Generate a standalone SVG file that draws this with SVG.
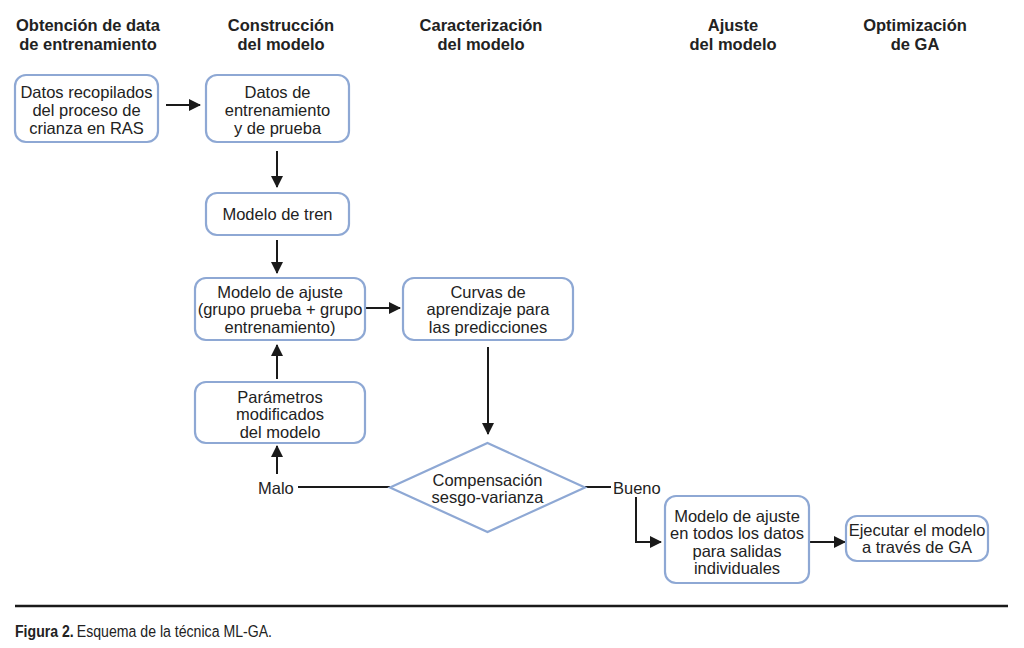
<svg xmlns="http://www.w3.org/2000/svg" width="1024" height="648" viewBox="0 0 1024 648">
<style>
.hd{font-family:"Liberation Sans",Arial,sans-serif;font-weight:bold;font-size:16.5px;fill:#222;text-anchor:middle}
.t{font-family:"Liberation Sans",Arial,sans-serif;font-size:16.5px;fill:#222;text-anchor:middle}
.lb{font-family:"Liberation Sans",Arial,sans-serif;font-size:16.5px;fill:#222}
.cap{font-family:"Liberation Sans",Arial,sans-serif;font-size:17px;fill:#222}
.box{fill:#fff;stroke:#8ea8d4;stroke-width:2.2}
.ln{fill:none;stroke:#1a1a1a;stroke-width:2}
</style>
<defs>
<marker id="a" viewBox="0 0 12 12" refX="11" refY="6" markerWidth="12" markerHeight="12" orient="auto" markerUnits="userSpaceOnUse">
<path d="M0,0 L12,6 L0,12 Z" fill="#1a1a1a"/>
</marker>
</defs>
<rect width="1024" height="648" fill="#fff"/>
<g id="headers">
<text class="hd" x="88" y="31">Obtención de data</text>
<text class="hd" x="88" y="50">de entrenamiento</text>
<text class="hd" x="281" y="31">Construcción</text>
<text class="hd" x="281" y="50">del modelo</text>
<text class="hd" x="481" y="31">Caracterización</text>
<text class="hd" x="481" y="50">del modelo</text>
<text class="hd" x="733" y="31">Ajuste</text>
<text class="hd" x="733" y="50">del modelo</text>
<text class="hd" x="915" y="31">Optimización</text>
<text class="hd" x="915" y="50">de GA</text>
</g>
<g id="connectors">
<line class="ln" x1="166" y1="105" x2="200" y2="105" marker-end="url(#a)"/>
<line class="ln" x1="277" y1="151" x2="277" y2="187" marker-end="url(#a)"/>
<line class="ln" x1="277" y1="240" x2="277" y2="273" marker-end="url(#a)"/>
<line class="ln" x1="366" y1="308" x2="400" y2="308" marker-end="url(#a)"/>
<line class="ln" x1="277" y1="379" x2="277" y2="345" marker-end="url(#a)"/>
<line class="ln" x1="488" y1="347" x2="488" y2="434" marker-end="url(#a)"/>
<line class="ln" x1="277" y1="474" x2="277" y2="446" marker-end="url(#a)"/>
<line class="ln" x1="298" y1="487" x2="390" y2="487"/>
<line class="ln" x1="585" y1="487" x2="611" y2="487"/>
<polyline class="ln" points="636,497 636,542 661,542" marker-end="url(#a)"/>
<line class="ln" x1="809" y1="542" x2="845" y2="542" marker-end="url(#a)"/>
</g>
<g id="n1">
<rect class="box" x="15" y="75" width="143" height="67" rx="11"/>
<text class="t" x="86.5" y="98">Datos recopilados</text>
<text class="t" x="86.5" y="116">del proceso de</text>
<text class="t" x="86.5" y="134">crianza en RAS</text>
</g>
<g id="n2">
<rect class="box" x="206" y="75" width="143" height="67" rx="11"/>
<text class="t" x="277.5" y="98">Datos de</text>
<text class="t" x="277.5" y="116">entrenamiento</text>
<text class="t" x="277.5" y="134">y de prueba</text>
</g>
<g id="n3">
<rect class="box" x="206" y="193" width="143" height="42" rx="11"/>
<text class="t" x="277.5" y="220">Modelo de tren</text>
</g>
<g id="n4">
<rect class="box" x="195" y="278" width="170" height="62" rx="11"/>
<text class="t" x="280" y="298">Modelo de ajuste</text>
<text class="t" x="280" y="315">(grupo prueba + grupo</text>
<text class="t" x="280" y="333">entrenamiento)</text>
</g>
<g id="n5">
<rect class="box" x="403" y="278" width="170" height="62" rx="11"/>
<text class="t" x="488" y="298">Curvas de</text>
<text class="t" x="488" y="315">aprendizaje para</text>
<text class="t" x="488" y="333">las predicciones</text>
</g>
<g id="n6">
<rect class="box" x="195" y="382" width="170" height="61" rx="11"/>
<text class="t" x="280" y="403">Parámetros</text>
<text class="t" x="280" y="420">modificados</text>
<text class="t" x="280" y="438">del modelo</text>
</g>
<g id="n7">
<polygon class="box" points="487.5,443 585,487.5 487.5,532 390,487.5"/>
<text class="t" x="487.5" y="486">Compensación</text>
<text class="t" x="487.5" y="503">sesgo-varianza</text>
</g>
<g id="labels">
<text class="lb" x="258" y="494">Malo</text>
<text class="lb" x="613" y="494">Bueno</text>
</g>
<g id="n8">
<rect class="box" x="665" y="496" width="144" height="87" rx="11"/>
<text class="t" x="737" y="522">Modelo de ajuste</text>
<text class="t" x="737" y="539">en todos los datos</text>
<text class="t" x="737" y="557">para salidas</text>
<text class="t" x="737" y="574">individuales</text>
</g>
<g id="n9">
<rect class="box" x="846" y="516" width="142" height="45" rx="11"/>
<text class="t" x="917" y="536">Ejecutar el modelo</text>
<text class="t" x="917" y="553">a través de GA</text>
</g>
<g id="caption">
<line x1="15" y1="606" x2="1008" y2="606" stroke="#1a1a1a" stroke-width="2.5"/>
<g transform="translate(15,637) scale(0.83,1)">
<text class="cap" x="0" y="0" font-weight="bold">Figura 2.</text>
<text class="cap" x="74.5" y="0">Esquema de la técnica ML-GA.</text>
</g>
</g>
</svg>
